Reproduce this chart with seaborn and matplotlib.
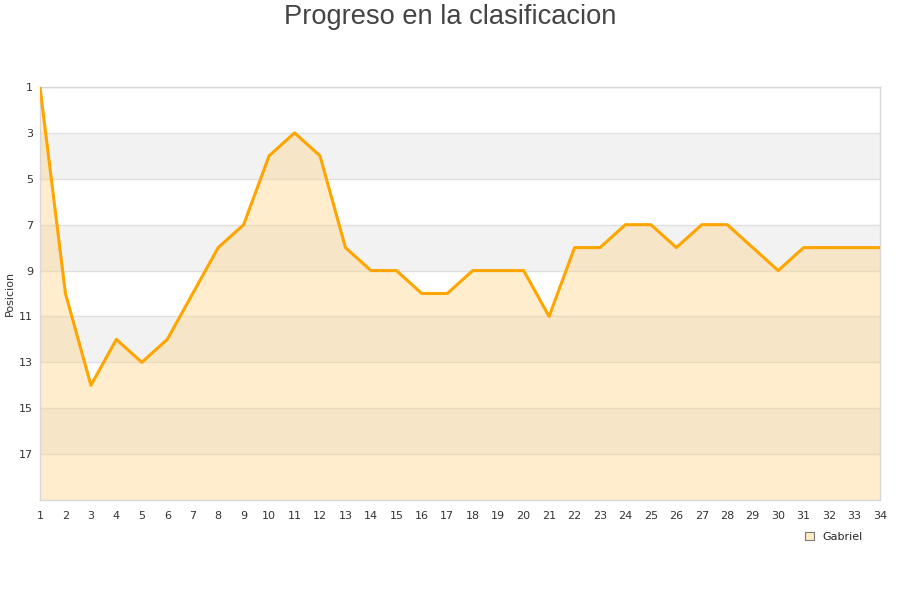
import matplotlib
matplotlib.use("Agg")
import matplotlib.pyplot as plt
import seaborn as sns
import pandas as pd
from matplotlib.patches import Patch

jornadas = list(range(1, 35))
posiciones = [1, 10, 14, 12, 13, 12, 10, 8, 7, 4, 3, 4, 8, 9, 9, 10, 10, 9, 9, 9,
              11, 8, 8, 7, 7, 8, 7, 7, 8, 9, 8, 8, 8, 8]
yticks = [1, 3, 5, 7, 9, 11, 13, 15, 17]
bands = [(3, 5), (7, 9), (11, 13), (15, 17)]
series_name = "Gabriel"

df = pd.DataFrame({"Jornada": jornadas, "Posicion": posiciones})

sns.set_theme(style="white")
plt.rcParams['font.family'] = ['DejaVu Sans']

fig = plt.figure(figsize=(9, 6), dpi=100)
ax = fig.add_axes([40/900, 1 - 500/600, 840/900, 413/600])

for a, b in bands:
    ax.axhspan(a, b, color="#f2f2f2", zorder=0, lw=0)
for t in yticks:
    ax.axhline(t, color="#e0e0e0", lw=1, zorder=0.5)

ax.fill_between(df["Jornada"], df["Posicion"], 19, color="#ffd27f", alpha=0.38, lw=0, zorder=1)
sns.lineplot(data=df, x="Jornada", y="Posicion", ax=ax, color="#ffa500", lw=2.2, zorder=3)

ax.set_xlim(1, 34)
ax.set_ylim(19, 1)
ax.set_xticks(jornadas)
ax.set_yticks(yticks)
ax.tick_params(axis="x", labelsize=8, colors="#333333", length=0, pad=8)
ax.tick_params(axis="y", labelsize=8, colors="#333333", length=0, pad=5)
ax.set_xlabel("")
ax.set_ylabel("Posicion", fontsize=8, color="#333333", labelpad=3)
for s in ax.spines.values():
    s.set_color("#d8d8d8")
    s.set_linewidth(1)

fig.suptitle("Progreso en la clasificacion", y=0.993, fontsize=19.6, color="#444444",
             family=["Liberation Sans", "DejaVu Sans"])

handle = Patch(facecolor="#ffebc6", edgecolor="#777777", lw=0.8)
fig.legend([handle], [series_name], loc="center right", bbox_to_anchor=(0.97, 0.105),
           frameon=False, fontsize=8, handlelength=0.8, handleheight=0.8, handletextpad=0.8)

fig.savefig("out.png", dpi=100)
